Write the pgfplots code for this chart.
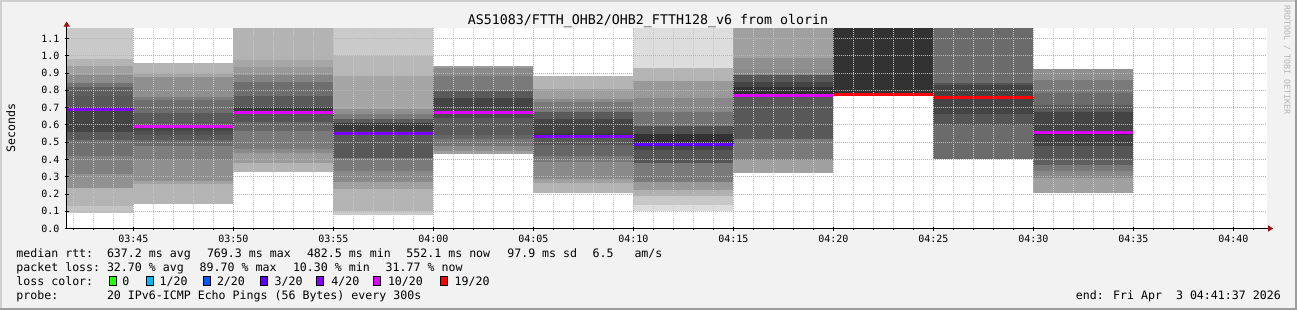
\documentclass[border=0pt]{standalone}
\usepackage{fontspec}
\setmainfont{DejaVu Sans Mono}
\usepackage{pgfplots}
\pgfplotsset{compat=1.18}
\usetikzlibrary{arrows.meta}
\definecolor{bgc}{HTML}{F2F2F2}
\definecolor{arrowc}{HTML}{A01010}
\definecolor{lc0}{HTML}{26FF00}
\definecolor{lc1}{HTML}{00B8FF}
\definecolor{lc2}{HTML}{0059FF}
\definecolor{lc3}{HTML}{5E00FF}
\definecolor{lc4}{HTML}{7E00FF}
\definecolor{lc10}{HTML}{DD00FF}
\definecolor{lc19}{HTML}{FF0000}
\definecolor{mgrid}{HTML}{E8A0A0}
\definecolor{ngrid}{HTML}{C8C8C8}
\definecolor{framelight}{HTML}{CFCFCF}
\definecolor{framedark}{HTML}{9C9C9C}
\definecolor{rrdc}{HTML}{B4B4B4}
\newcommand{\fs}[1]{\fontsize{#1bp}{#1bp}\selectfont}
\newcommand{\band}[5]{\addplot[draw=none, fill={rgb,255:red,#5;green,#5;blue,#5}, forget plot] coordinates {(#1,#3) (#2,#3) (#2,#4) (#1,#4)};}
\begin{document}
\begin{tikzpicture}
\path[use as bounding box] (0,0) rectangle (1297bp,-310bp);
\fill[bgc] (0,0) rectangle (1297bp,-310bp);
\fill[framelight] (0,0) rectangle (1297bp,-2bp);
\fill[framelight] (0,0) rectangle (2bp,-310bp);
\fill[framedark] (0,-308bp) rectangle (1297bp,-310bp);
\fill[framedark] (1295bp,0) rectangle (1297bp,-310bp);
\begin{axis}[
  at={(66.7bp,-228.5bp)}, anchor=south west,
  width=1200bp, height=200.5bp, scale only axis,
  xmin=1.6667, xmax=61.6667, ymin=0, ymax=1.16,
  axis background/.style={fill=white},
  axis lines*=left,
  axis line style={black, line width=0.8bp},
  x axis line style={-{Triangle[length=5bp,width=6bp,color=arrowc]}, shorten >=-6.5bp},
  y axis line style={-{Triangle[length=5bp,width=6bp,color=arrowc]}, shorten >=-6.5bp},
  axis on top,
  xtick={5,10,15,20,25,30,35,40,45,50,55,60},
  xticklabels={03:45,03:50,03:55,04:00,04:05,04:10,04:15,04:20,04:25,04:30,04:35,04:40},
  minor xtick={2,3,4,6,7,8,9,11,12,13,14,16,17,18,19,21,22,23,24,26,27,28,29,31,32,33,34,36,37,38,39,41,42,43,44,46,47,48,49,51,52,53,54,56,57,58,59,61},
  ytick={0,0.1,0.2,0.3,0.4,0.5,0.6,0.7,0.8,0.9,1.0,1.1},
  yticklabels={0.0,0.1,0.2,0.3,0.4,0.5,0.6,0.7,0.8,0.9,1.0,1.1},
  grid=both,
  major grid style={mgrid, line width=0.8bp, dash pattern=on 1bp off 1bp},
  minor grid style={ngrid, line width=0.8bp, dash pattern=on 1bp off 1bp},
  tick style={black, line width=0.8bp},
  major tick length=4bp, minor tick length=2bp,
  tick align=center,
  xticklabel style={font=\fs{10}, anchor=north, inner sep=0pt, yshift=-4bp},
  yticklabel style={font=\fs{10}, anchor=east, inner sep=0pt, xshift=-5bp},
]
% bar 1 (03:41:40-03:45)
\band{1.6667}{5}{0.092}{0.133}{195}
\band{1.6667}{5}{0.133}{0.232}{180}
\band{1.6667}{5}{0.232}{0.313}{145}
\band{1.6667}{5}{0.313}{0.417}{128}
\band{1.6667}{5}{0.417}{0.512}{112}
\band{1.6667}{5}{0.512}{0.558}{90}
\band{1.6667}{5}{0.558}{0.705}{68}
\band{1.6667}{5}{0.705}{0.765}{88}
\band{1.6667}{5}{0.765}{0.820}{95}
\band{1.6667}{5}{0.820}{0.842}{115}
\band{1.6667}{5}{0.842}{0.889}{140}
\band{1.6667}{5}{0.889}{0.940}{160}
\band{1.6667}{5}{0.940}{0.980}{180}
\band{1.6667}{5}{0.980}{1.16}{201}
% bar 2
\band{5}{10}{0.139}{0.259}{180}
\band{5}{10}{0.259}{0.272}{162}
\band{5}{10}{0.272}{0.396}{143}
\band{5}{10}{0.396}{0.477}{126}
\band{5}{10}{0.477}{0.510}{107}
\band{5}{10}{0.510}{0.539}{90}
\band{5}{10}{0.539}{0.562}{80}
\band{5}{10}{0.562}{0.601}{68}
\band{5}{10}{0.601}{0.671}{90}
\band{5}{10}{0.671}{0.742}{110}
\band{5}{10}{0.742}{0.761}{126}
\band{5}{10}{0.761}{0.877}{143}
\band{5}{10}{0.877}{0.902}{165}
\band{5}{10}{0.902}{0.958}{180}
% bar 3
\band{10}{15}{0.325}{0.379}{180}
\band{10}{15}{0.379}{0.439}{155}
\band{10}{15}{0.439}{0.462}{138}
\band{10}{15}{0.462}{0.562}{122}
\band{10}{15}{0.562}{0.616}{102}
\band{10}{15}{0.616}{0.671}{85}
\band{10}{15}{0.671}{0.703}{55}
\band{10}{15}{0.703}{0.767}{90}
\band{10}{15}{0.767}{0.848}{110}
\band{10}{15}{0.848}{0.887}{133}
\band{10}{15}{0.887}{0.935}{153}
\band{10}{15}{0.935}{0.974}{166}
\band{10}{15}{0.974}{1.16}{179}
% bar 4
\band{15}{20}{0.079}{0.104}{202}
\band{15}{20}{0.104}{0.230}{180}
\band{15}{20}{0.230}{0.269}{160}
\band{15}{20}{0.269}{0.330}{138}
\band{15}{20}{0.330}{0.408}{122}
\band{15}{20}{0.408}{0.539}{88}
\band{15}{20}{0.539}{0.562}{68}
\band{15}{20}{0.562}{0.613}{58}
\band{15}{20}{0.613}{0.636}{90}
\band{15}{20}{0.636}{0.665}{122}
\band{15}{20}{0.665}{0.694}{143}
\band{15}{20}{0.694}{0.883}{165}
\band{15}{20}{0.883}{0.999}{184}
\band{15}{20}{0.999}{1.16}{202}
% bar 5
\band{20}{25}{0.429}{0.448}{158}
\band{20}{25}{0.448}{0.477}{138}
\band{20}{25}{0.477}{0.520}{118}
\band{20}{25}{0.520}{0.543}{102}
\band{20}{25}{0.543}{0.640}{90}
\band{20}{25}{0.640}{0.671}{75}
\band{20}{25}{0.671}{0.756}{68}
\band{20}{25}{0.756}{0.794}{90}
\band{20}{25}{0.794}{0.881}{122}
\band{20}{25}{0.881}{0.926}{138}
\band{20}{25}{0.926}{0.939}{155}
% bar 6
\band{25}{30}{0.208}{0.266}{180}
\band{25}{30}{0.266}{0.289}{160}
\band{25}{30}{0.289}{0.386}{138}
\band{25}{30}{0.386}{0.420}{120}
\band{25}{30}{0.420}{0.482}{102}
\band{25}{30}{0.482}{0.535}{85}
\band{25}{30}{0.535}{0.552}{60}
\band{25}{30}{0.552}{0.636}{68}
\band{25}{30}{0.636}{0.673}{90}
\band{25}{30}{0.673}{0.733}{122}
\band{25}{30}{0.733}{0.752}{138}
\band{25}{30}{0.752}{0.807}{158}
\band{25}{30}{0.807}{0.884}{180}
% bar 7
\band{30}{35}{0.101}{0.137}{221}
\band{30}{35}{0.137}{0.187}{200}
\band{30}{35}{0.187}{0.220}{176}
\band{30}{35}{0.220}{0.270}{153}
\band{30}{35}{0.270}{0.378}{122}
\band{30}{35}{0.378}{0.452}{85}
\band{30}{35}{0.452}{0.490}{68}
\band{30}{35}{0.490}{0.544}{50}
\band{30}{35}{0.544}{0.594}{80}
\band{30}{35}{0.594}{0.675}{115}
\band{30}{35}{0.675}{0.757}{136}
\band{30}{35}{0.757}{0.854}{153}
\band{30}{35}{0.854}{0.930}{180}
\band{30}{35}{0.930}{1.16}{221}
% bar 8
\band{35}{40}{0.321}{0.394}{160}
\band{35}{40}{0.394}{0.520}{122}
\band{35}{40}{0.520}{0.771}{88}
\band{35}{40}{0.771}{0.819}{50}
\band{35}{40}{0.819}{0.848}{68}
\band{35}{40}{0.848}{0.887}{88}
\band{35}{40}{0.887}{0.922}{138}
\band{35}{40}{0.922}{0.987}{143}
\band{35}{40}{0.987}{1.16}{160}
% bar 9
\band{40}{45}{0.774}{1.16}{50}
% bar 10
\band{45}{50}{0.404}{0.601}{107}
\band{45}{50}{0.601}{0.665}{85}
\band{45}{50}{0.665}{0.830}{68}
\band{45}{50}{0.830}{0.839}{85}
\band{45}{50}{0.839}{1.16}{107}
% bar 11
\band{50}{55}{0.204}{0.293}{160}
\band{50}{55}{0.293}{0.331}{136}
\band{50}{55}{0.331}{0.366}{120}
\band{50}{55}{0.366}{0.409}{95}
\band{50}{55}{0.409}{0.478}{85}
\band{50}{55}{0.478}{0.540}{65}
\band{50}{55}{0.540}{0.555}{50}
\band{50}{55}{0.555}{0.675}{68}
\band{50}{55}{0.675}{0.714}{90}
\band{50}{55}{0.714}{0.784}{107}
\band{50}{55}{0.784}{0.861}{122}
\band{50}{55}{0.861}{0.920}{143}
% median step line
\addplot[const plot, mark=none, black!85, line width=0.7bp, densely dotted, forget plot] coordinates {(1.6667,0.691) (5,0.590) (10,0.671) (15,0.552) (20,0.669) (25,0.534) (30,0.486) (35,0.772) (40,0.774) (45,0.757) (50,0.555) (55,0.555)};
% median coloured by loss
\addplot[lc4, line width=3bp, forget plot] coordinates {(1.6667,0.691) (5,0.691)};
\addplot[lc10, line width=3bp, forget plot] coordinates {(5,0.590) (10,0.590)};
\addplot[lc10, line width=3bp, forget plot] coordinates {(10,0.671) (15,0.671)};
\addplot[lc4, line width=3bp, forget plot] coordinates {(15,0.552) (20,0.552)};
\addplot[lc10, line width=3bp, forget plot] coordinates {(20,0.669) (25,0.669)};
\addplot[lc4, line width=3bp, forget plot] coordinates {(25,0.534) (30,0.534)};
\addplot[lc3, line width=3bp, forget plot] coordinates {(30,0.486) (35,0.486)};
\addplot[lc10, line width=3bp, forget plot] coordinates {(35,0.772) (40,0.772)};
\addplot[lc19, line width=3bp, forget plot] coordinates {(40,0.774) (45,0.774)};
\addplot[lc19, line width=3bp, forget plot] coordinates {(45,0.757) (50,0.757)};
\addplot[lc10, line width=3bp, forget plot] coordinates {(50,0.555) (55,0.555)};
\end{axis}
% title and labels
\node[anchor=base, font=\fs{13.3}, inner sep=0pt] at (648bp,-24bp) {AS51083/FTTH\_OHB2/OHB2\_FTTH128\_v6 from olorin};
\node[rotate=90, font=\fs{11.6}, inner sep=0pt] at (10.8bp,-127.7bp) {Seconds};
\node[rotate=-90, font=\fs{8.3}, text=rrdc, inner sep=0pt] at (1287bp,-60bp) {RRDTOOL / TOBI OETIKER};
% legend line 1
\begin{scope}[every node/.style={anchor=base west, inner sep=0pt, font=\fs{11.6}}]
\node at (16.2bp,-257.5bp) {median rtt:};
\node at (106.8bp,-257.5bp) {637.2 ms avg};
\node at (206.8bp,-257.5bp) {769.3 ms max};
\node at (306.8bp,-257.5bp) {482.5 ms min};
\node at (406.2bp,-257.5bp) {552.1 ms now};
\node at (507.1bp,-257.5bp) {97.9 ms sd};
\node at (592.4bp,-257.5bp) {6.5};
\node at (634.3bp,-257.5bp) {am/s};
% legend line 2
\node at (16.2bp,-271.5bp) {packet loss:};
\node at (106.8bp,-271.5bp) {32.70 \% avg};
\node at (199.5bp,-271.5bp) {89.70 \% max};
\node at (292.8bp,-271.5bp) {10.30 \% min};
\node at (385.5bp,-271.5bp) {31.77 \% now};
% legend line 3
\node at (16.2bp,-285.5bp) {loss color:};
\node at (122.2bp,-285.5bp) {0};
\node at (159.5bp,-285.5bp) {1/20};
\node at (216.8bp,-285.5bp) {2/20};
\node at (274.5bp,-285.5bp) {3/20};
\node at (331.2bp,-285.5bp) {4/20};
\node at (387.8bp,-285.5bp) {10/20};
\node at (454.5bp,-285.5bp) {19/20};
% legend line 4
\node at (16.2bp,-299.5bp) {probe:};
\node at (106.8bp,-299.5bp) {20 IPv6-ICMP Echo Pings (56 Bytes) every 300s};
\end{scope}
\node[anchor=base east, inner sep=0pt, font=\fs{11.6}] at (1281bp,-299.5bp) {end: Fri Apr\ \ 3 04:41:37 2026};
% loss colour swatches
\filldraw[fill=lc0, draw=black, line width=0.8bp] (109.3bp,-276.8bp) rectangle (116.3bp,-285.6bp);
\filldraw[fill=lc1, draw=black, line width=0.8bp] (146bp,-276.8bp) rectangle (153bp,-285.6bp);
\filldraw[fill=lc2, draw=black, line width=0.8bp] (203.3bp,-276.8bp) rectangle (210.3bp,-285.6bp);
\filldraw[fill=lc3, draw=black, line width=0.8bp] (260bp,-276.8bp) rectangle (267bp,-285.6bp);
\filldraw[fill=lc4, draw=black, line width=0.8bp] (316.7bp,-276.8bp) rectangle (323.7bp,-285.6bp);
\filldraw[fill=lc10, draw=black, line width=0.8bp] (373.3bp,-276.8bp) rectangle (380.3bp,-285.6bp);
\filldraw[fill=lc19, draw=black, line width=0.8bp] (440bp,-276.8bp) rectangle (447bp,-285.6bp);
\end{tikzpicture}
\end{document}
